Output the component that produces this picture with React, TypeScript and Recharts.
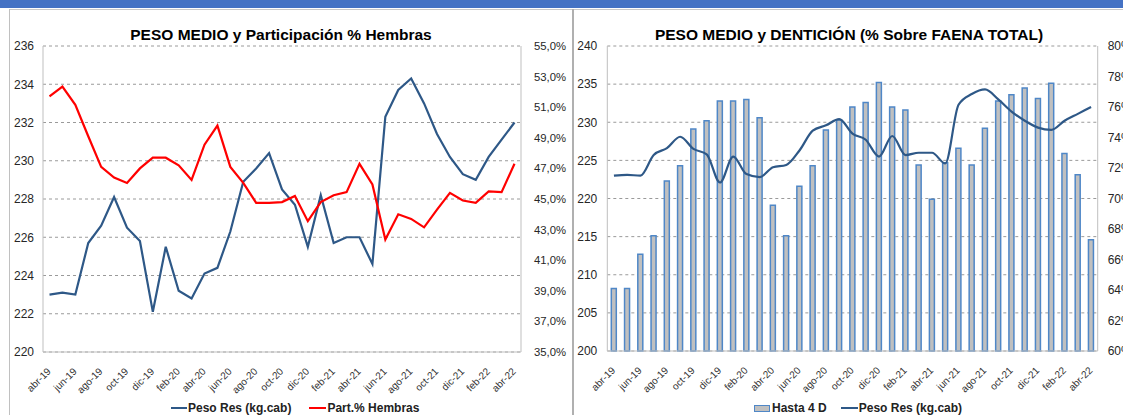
import {
  LineChart, Line, ComposedChart, Bar, XAxis, YAxis, CartesianGrid, Legend,
} from 'recharts';

const meses = [
  'abr-19', 'may-19', 'jun-19', 'jul-19', 'ago-19', 'sep-19', 'oct-19', 'nov-19', 'dic-19',
  'ene-20', 'feb-20', 'mar-20', 'abr-20', 'may-20', 'jun-20', 'jul-20', 'ago-20', 'sep-20',
  'oct-20', 'nov-20', 'dic-20', 'ene-21', 'feb-21', 'mar-21', 'abr-21', 'may-21', 'jun-21',
  'jul-21', 'ago-21', 'sep-21', 'oct-21', 'nov-21', 'dic-21', 'ene-22', 'feb-22', 'mar-22',
  'abr-22',
];

// Peso Res (kg.cab)
const pesoRes = [
  223.0, 223.1, 223.0, 225.7, 226.6, 228.1, 226.5, 225.8, 222.1, 225.5,
  223.2, 222.8, 224.1, 224.4, 226.3, 228.9, 229.6, 230.4, 228.5, 227.7,
  225.5, 228.2, 225.7, 226.0, 226.0, 224.6, 232.3, 233.7, 234.3, 233.0,
  231.4, 230.2, 229.3, 229.0, 230.2, 231.1, 232.0,
];

// Part.% Hembras
const hembras = [
  51.7, 52.35, 51.15, 49.1, 47.1, 46.4, 46.05, 47.0, 47.7, 47.7,
  47.2, 46.25, 48.55, 49.8, 47.1, 46.05, 44.75, 44.75, 44.8, 45.2,
  43.55, 44.8, 45.25, 45.45, 47.3, 45.95, 42.35, 44.0, 43.7, 43.15,
  44.3, 45.4, 44.9, 44.75, 45.5, 45.45, 47.3,
];

// Hasta 4 D (% sobre faena total)
const hasta4D = [
  64.1, 64.1, 66.35, 67.55, 71.15, 72.15, 74.55, 75.1, 76.4, 76.4,
  76.5, 75.3, 69.55, 67.55, 70.8, 72.15, 74.5, 75.15, 76.0, 76.3,
  77.6, 76.0, 75.8, 72.2, 69.95, 72.35, 73.3, 72.2, 74.6, 76.4,
  76.8, 77.25, 76.55, 77.55, 72.95, 71.55, 67.3,
];

const pesoTicks = [220, 222, 224, 226, 228, 230, 232, 234, 236];
const hembrasTicks = [35, 37, 39, 41, 43, 45, 47, 49, 51, 53, 55];
const pesoTicks2 = [200, 205, 210, 215, 220, 225, 230, 235, 240];
const denticionTicks = [60, 62, 64, 66, 68, 70, 72, 74, 76, 78, 80];

const data = meses.map((mes, i) => ({
  mes,
  peso: pesoRes[i],
  hembras: hembras[i],
  hasta4: hasta4D[i],
}));

const BLUE = '#2E5887';
const RED = '#FF0000';
const BORDER = '#BFBFBF';
const GRID = '#9A9A9A';
const FONT = '"Liberation Sans", Arial, sans-serif';

function SlantTick(props: any) {
  const { x, y, payload } = props;
  const x0 = x + 2;
  const y0 = y + 20;
  return (
    <text x={x0} y={y0} transform={`rotate(-45 ${x0} ${y0})`} textAnchor="end"
      fontSize={10} fill="#333" fontFamily={FONT}>
      {payload.value}
    </text>
  );
}

const tickStyle = { fontSize: 12, fill: '#262626', fontFamily: FONT };

function LegendLeft() {
  return (
    <div style={{ display: 'flex', alignItems: 'center', fontSize: 12, fontWeight: 'bold', color: '#222', lineHeight: '14px', fontFamily: FONT }}>
      <span style={{ width: 16, height: 2, background: BLUE, display: 'inline-block' }} />
      <span style={{ marginLeft: 1 }}>Peso Res (kg.cab)</span>
      <span style={{ width: 17, height: 2, background: RED, display: 'inline-block', marginLeft: 18 }} />
      <span style={{ marginLeft: 1 }}>Part.% Hembras</span>
    </div>
  );
}

function LegendRight() {
  return (
    <div style={{ display: 'flex', alignItems: 'center', fontSize: 12, fontWeight: 'bold', color: '#222', lineHeight: '14px', fontFamily: FONT }}>
      <span style={{ width: 14, height: 5, background: '#C0C0C0', border: '1px solid #4F87C7', display: 'inline-block' }} />
      <span style={{ marginLeft: 2 }}>Hasta 4 D</span>
      <span style={{ width: 17, height: 2, background: BLUE, display: 'inline-block', marginLeft: 14 }} />
      <span style={{ marginLeft: 1 }}>Peso Res (kg.cab)</span>
    </div>
  );
}

const titleStyle: React.CSSProperties = {
  position: 'absolute', top: 26, fontSize: 15.5, fontWeight: 'bold', lineHeight: '18px',
  fontFamily: FONT, color: '#000', whiteSpace: 'nowrap', transform: 'translateX(-50%)',
};

export default function App() {
  return (
    <div style={{ position: 'absolute', left: 0, top: 0, width: 1123, height: 415, overflow: 'hidden', background: '#fff', fontFamily: FONT }}>
      <div style={{ position: 'absolute', left: 0, top: 0, width: 1123, height: 8, background: '#4472C4' }} />
      <div style={{ position: 'absolute', left: 9, top: 9, width: 1114, height: 1, background: '#C8C8C8' }} />
      <div style={{ position: 'absolute', left: 9, top: 9, width: 1, height: 406, background: '#C0C0C0' }} />
      <div style={{ position: 'absolute', left: 572, top: 9, width: 2, height: 406, background: '#B0B0B0' }} />

      <div style={{ ...titleStyle, left: 281 }}>PESO MEDIO y Participación % Hembras</div>
      <div style={{ ...titleStyle, left: 849 }}>PESO MEDIO y DENTICIÓN (% Sobre FAENA TOTAL)</div>

      <div style={{ position: 'absolute', left: 0, top: 0 }}>
        <LineChart width={568} height={415} data={data} margin={{ top: 46, right: 0, bottom: 13, left: 0 }}>
          <CartesianGrid yAxisId="peso" vertical={false} strokeDasharray="3 3" stroke={GRID} />
          <XAxis dataKey="mes" interval={1} padding={{ left: 6.5, right: 6.5 }} height={50}
            tickSize={0} tickMargin={0} tickLine={false} axisLine={{ stroke: BORDER }} tick={<SlantTick />} />
          <XAxis xAxisId="top" orientation="top" dataKey="mes" height={0} tick={false}
            tickLine={false} axisLine={{ stroke: BORDER }} />
          <YAxis yAxisId="peso" domain={[220, 236]} ticks={pesoTicks} width={43} tickSize={0}
            tickMargin={9} tickLine={false} axisLine={{ stroke: BORDER }} tick={tickStyle} />
          <YAxis yAxisId="hembras" orientation="right" domain={[35, 55]} ticks={hembrasTicks} width={47}
            tickSize={0} tickMargin={13} tickLine={false} axisLine={{ stroke: BORDER }}
            tick={{ ...tickStyle, fontSize: 11.3 }}
            tickFormatter={(v: number) => `${v.toFixed(1).replace('.', ',')}%`} />
          <Legend layout="horizontal" verticalAlign="middle" align="center" content={<LegendLeft />}
            wrapperStyle={{ left: 171, top: 401, width: 300, height: 14 }} />
          <Line yAxisId="peso" dataKey="peso" name="Peso Res (kg.cab)" stroke={BLUE} strokeWidth={2.2}
            dot={false} isAnimationActive={false} />
          <Line yAxisId="hembras" dataKey="hembras" name="Part.% Hembras" stroke={RED} strokeWidth={2.2}
            dot={false} isAnimationActive={false} />
        </LineChart>
      </div>

      <div style={{ position: 'absolute', left: 573, top: 0 }}>
        <ComposedChart width={550} height={415} data={data} margin={{ top: 46, right: 0, bottom: 14, left: 0 }}
          barCategoryGap={0}>
          <CartesianGrid yAxisId="peso" vertical={false} strokeDasharray="3 3" stroke={GRID} />
          <XAxis dataKey="mes" interval={1} height={50} tickSize={0} tickMargin={0} tickLine={false}
            axisLine={{ stroke: BORDER }} tick={<SlantTick />} />
          <XAxis xAxisId="top" orientation="top" dataKey="mes" height={0} tick={false}
            tickLine={false} axisLine={{ stroke: BORDER }} />
          <YAxis yAxisId="peso" domain={[200, 240]} ticks={pesoTicks2} width={34.3} tickSize={0}
            tickMargin={10} tickLine={false} axisLine={{ stroke: BORDER }} tick={tickStyle} />
          <YAxis yAxisId="dent" orientation="right" domain={[60, 80]} ticks={denticionTicks} width={25.3}
            tickSize={0} tickMargin={10} tickLine={false} axisLine={{ stroke: BORDER }} tick={tickStyle}
            tickFormatter={(v: number) => `${v}%`} />
          <Legend layout="horizontal" verticalAlign="middle" align="center" content={<LegendRight />}
            wrapperStyle={{ left: 181, top: 401, width: 300, height: 14 }} />
          <Bar yAxisId="dent" dataKey="hasta4" name="Hasta 4 D" barSize={5} fill="#C0C0C0"
            stroke="#4F87C7" strokeWidth={1.5} isAnimationActive={false} />
          <Line yAxisId="peso" type="monotone" dataKey="peso" name="Peso Res (kg.cab)" stroke={BLUE}
            strokeWidth={2.2} dot={false} isAnimationActive={false} />
        </ComposedChart>
      </div>
    </div>
  );
}
